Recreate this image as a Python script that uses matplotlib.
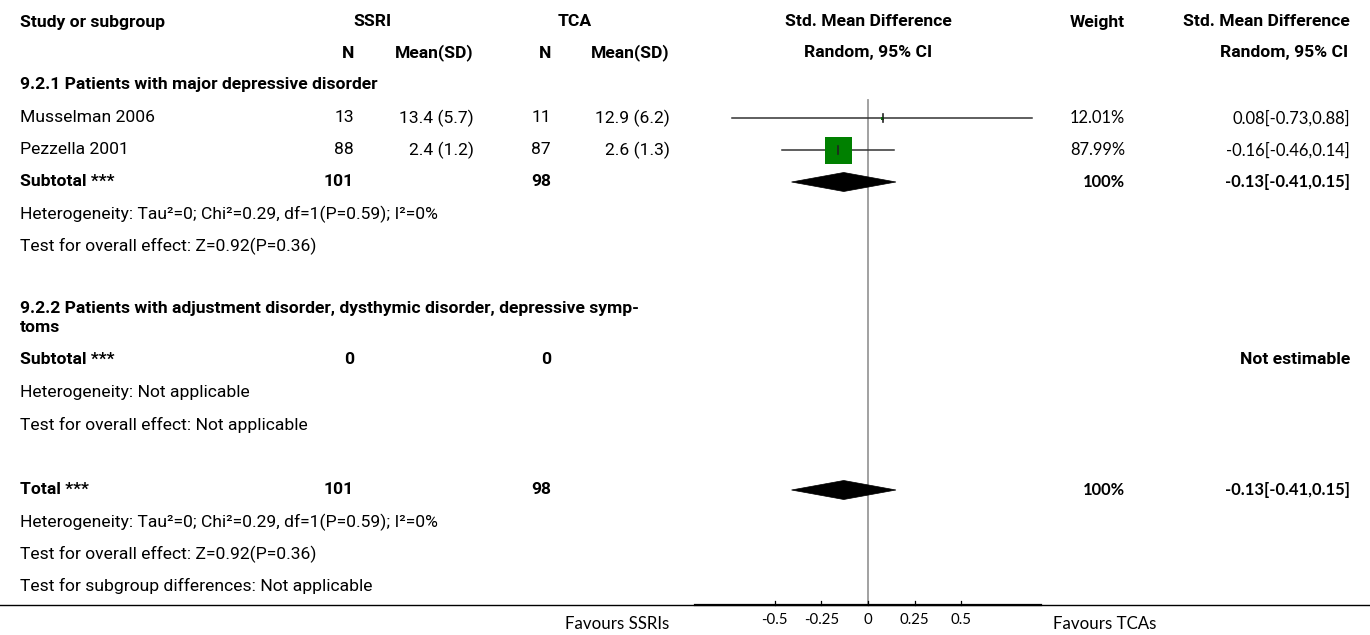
import matplotlib
matplotlib.use("Agg")
import matplotlib.pyplot as plt
from matplotlib.patches import Polygon, Rectangle

# ---------------- data ----------------
studies = ["Musselman 2006", "Pezzella 2001"]
ssri_n = [13, 88]
ssri_mean_sd = ["13.4 (5.7)", "2.4 (1.2)"]
tca_n = [11, 87]
tca_mean_sd = ["12.9 (6.2)", "2.6 (1.3)"]
smd = [0.08, -0.16]
ci_low = [-0.73, -0.46]
ci_high = [0.88, 0.14]
weights = ["12.01%", "87.99%"]
smd_text = ["0.08[-0.73,0.88]", "-0.16[-0.46,0.14]"]
marker_px = [3, 27]

sub1_est, sub1_low, sub1_high = -0.13, -0.41, 0.15
sub1_ssri_n, sub1_tca_n = 101, 98
sub1_text = "-0.13[-0.41,0.15]"
tot_est, tot_low, tot_high = -0.13, -0.41, 0.15
tot_text = "-0.13[-0.41,0.15]"

ticks = [-0.5, -0.25, 0, 0.25, 0.5]
tick_labels = ["-0.5", "-0.25", "0", "0.25", "0.5"]

W, H = 1370, 635
fig = plt.figure(figsize=(W / 100, H / 100), dpi=100)
ax = fig.add_axes([0, 0, 1, 1])
ax.set_xlim(0, W)
ax.set_ylim(H, 0)
ax.axis("off")

# forest axes: 0 at pixel 868, 186.5 px per unit
x0, ppu = 868, 186.5
fx = fig.add_axes([0, 0, 1, 1], facecolor="none")
fx.set_xlim(-x0 / ppu, (W - x0) / ppu)
fx.set_ylim(H, 0)
fx.axis("off")

MAIN = ["Roboto", "DejaVu Sans"]
NUM = ["Lato", "DejaVu Sans"]
FS = 12.6
FSN = 11.9

def t(x, y, s, ha="left", bold=False, fam=MAIN, fs=FS):
    ax.text(x, y, s, ha=ha, va="center", fontsize=fs, family=fam,
            fontweight="bold" if bold else "normal", color="black")

# headers
t(20, 22, "Study or subgroup", bold=True)
t(372, 22, "SSRI", ha="center", bold=True)
t(575, 22, "TCA", ha="center", bold=True)
t(868, 22, "Std. Mean Difference", ha="center", bold=True)
t(1125, 22, "Weight", ha="right", bold=True)
t(1350, 22, "Std. Mean Difference", ha="right", bold=True)
t(354, 53, "N", ha="right", bold=True)
t(474, 53, "Mean(SD)", ha="right", bold=True)
t(551, 53, "N", ha="right", bold=True)
t(670, 53, "Mean(SD)", ha="right", bold=True)
t(868, 53, "Random, 95% CI", ha="center", bold=True)
t(1348, 53, "Random, 95% CI", ha="right", bold=True)

# subgroup 1
t(20, 85, "9.2.1 Patients with major depressive disorder", bold=True)
row_y = [118, 150]
for i, y in enumerate(row_y):
    t(20, y, studies[i])
    t(354, y, str(ssri_n[i]), ha="right")
    t(474, y, ssri_mean_sd[i], ha="right")
    t(551, y, str(tca_n[i]), ha="right")
    t(670, y, tca_mean_sd[i], ha="right")
    t(1125, y, weights[i], ha="right", fam=NUM, fs=FSN)
    t(1350, y, smd_text[i], ha="right", fam=NUM, fs=FSN)

t(20, 182, "Subtotal ***", bold=True)
t(354, 182, str(sub1_ssri_n), ha="right", bold=True)
t(551, 182, str(sub1_tca_n), ha="right", bold=True)
t(1125, 182, "100%", ha="right", bold=True, fam=NUM, fs=FSN)
t(1350, 182, sub1_text, ha="right", bold=True, fam=NUM, fs=FSN)
het = "Heterogeneity: Tau\u00b2=0; Chi\u00b2=0.29, df=1(P=0.59); I\u00b2=0%"
t(20, 214, het)
t(20, 246, "Test for overall effect: Z=0.92(P=0.36)")

# subgroup 2
t(20, 309, "9.2.2 Patients with adjustment disorder, dysthymic disorder, depressive symp-", bold=True)
t(20, 327, "toms", bold=True)
t(20, 359, "Subtotal ***", bold=True)
t(354, 359, "0", ha="right", bold=True)
t(551, 359, "0", ha="right", bold=True)
t(1350, 359, "Not estimable", ha="right", bold=True)
t(20, 392, "Heterogeneity: Not applicable")
t(20, 425, "Test for overall effect: Not applicable")

# total
t(20, 490, "Total ***", bold=True)
t(354, 490, str(sub1_ssri_n), ha="right", bold=True)
t(551, 490, str(sub1_tca_n), ha="right", bold=True)
t(1125, 490, "100%", ha="right", bold=True, fam=NUM, fs=FSN)
t(1350, 490, tot_text, ha="right", bold=True, fam=NUM, fs=FSN)
t(20, 522, het)
t(20, 554, "Test for overall effect: Z=0.92(P=0.36)")
t(20, 586, "Test for subgroup differences: Not applicable")

# zero line
fx.plot([0, 0], [100, 605], color="#9a9a9a", lw=1.3, zorder=1)

# studies
for i, y in enumerate(row_y):
    fx.plot([ci_low[i], ci_high[i]], [y, y], color="#333333", lw=1.1, zorder=2)
    s = marker_px[i] / ppu
    hh = marker_px[i] / 2
    fx.add_patch(Rectangle((smd[i] - s / 2, y - hh), s, marker_px[i],
                           facecolor="#008000", edgecolor="none", zorder=3))
    fx.plot([smd[i], smd[i]], [y - 4, y + 4], color="#222222", lw=1.2, zorder=4)

def diamond(est, lo, hi, y, h=9.5):
    fx.add_patch(Polygon([[lo, y], [est, y - h], [hi, y], [est, y + h]],
                         closed=True, facecolor="black", edgecolor="black", lw=0.5, zorder=3))

diamond(sub1_est, sub1_low, sub1_high, 182)
diamond(tot_est, tot_low, tot_high, 490)

# bottom axis
ax.plot([0, W], [605, 605], color="black", lw=1.0, zorder=1)
fx.plot([-0.93, 0.93], [605, 605], color="black", lw=1.6, zorder=2)
for tk, lab in zip(ticks, tick_labels):
    fx.plot([tk, tk], [601, 605], color="black", lw=0.9)
    fx.text(tk, 620, lab, ha="center", va="center", fontsize=10.8, family=NUM)
t(617, 624, "Favours SSRIs", ha="center", fam=NUM, fs=12.2)
t(1105, 624, "Favours TCAs", ha="center", fam=NUM, fs=12.2)

fig.savefig("out.png", dpi=100)
